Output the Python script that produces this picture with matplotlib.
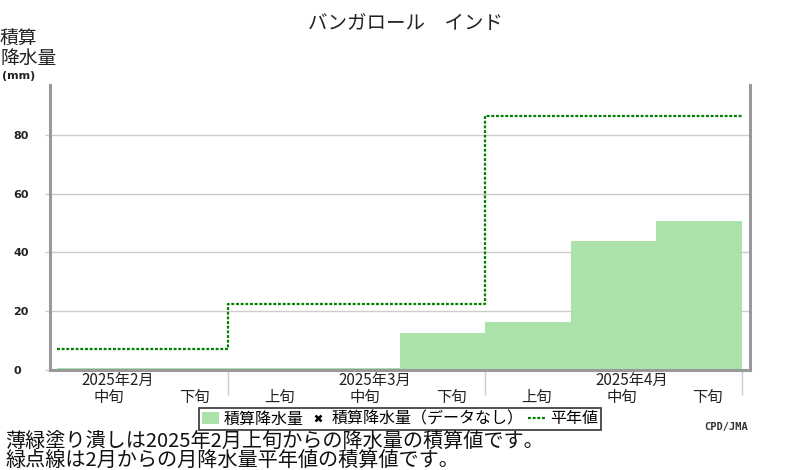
import matplotlib
matplotlib.use("Agg")
import numpy as np
import matplotlib.pyplot as plt
from matplotlib.patches import Patch
from matplotlib.lines import Line2D

plt.rcParams['font.family'] = ['Noto Sans CJK JP', 'DejaVu Sans']

# ---- data ----
dekads = ['中旬', '下旬', '上旬', '中旬', '下旬', '上旬', '中旬', '下旬']
month_labels = ['2025年2月', '2025年3月', '2025年4月']
month_ndek = [2, 3, 3]                      # dekads shown per month
precip = [0.8, 0.8, 0.8, 0.8, 12.6, 16.3, 43.9, 50.7]   # cumulative (mm)
normal = [7.2, 22.6, 86.3]                  # cumulative monthly normal (mm)
yticks = [0, 20, 40, 60, 80]

GREEN_FILL = '#abe3ab'
GREEN_LINE = '#008000'
GRID = '#cccccc'
SPINE = '#999999'

fig = plt.figure(figsize=(8, 4.7), dpi=100)
ax = fig.add_axes([50 / 800, 100 / 470, 700 / 800, 285 / 470])

px = 85.625  # pixels per dekad
ax.set_xlim(-7 / px, len(dekads) + 8 / px)
ax.set_ylim(0, 97)

# bars
x = np.arange(len(dekads))
ax.bar(x, precip, width=1.0, align='edge', color=GREEN_FILL, linewidth=0, zorder=2)

# normal step line
edges = np.concatenate([[0], np.cumsum(month_ndek)])
ax.step(edges, normal + [normal[-1]], where='post', color=GREEN_LINE,
        lw=1.6, linestyle=(0, (1.3, 0.8)), zorder=3)

# axes styling
for side in ['left', 'bottom', 'right']:
    ax.spines[side].set_color(SPINE)
    ax.spines[side].set_linewidth(2.2)
ax.spines['top'].set_visible(False)
ax.set_axisbelow(True)
ax.yaxis.grid(True, color=GRID, lw=1)

ax.set_yticks(yticks)
ax.set_yticklabels([str(v) for v in yticks], ha='left', fontsize=8,
                   fontweight='bold', family='DejaVu Sans', color='#222222')
ax.tick_params(axis='y', length=3.6, width=1, color=GRID, pad=23)

ax.set_xticks([])
ax.set_xticks(edges[1:], minor=True)
ax.tick_params(axis='x', which='minor', length=18, width=1, color=GRID,
               labelbottom=False)

# x labels
xt = ax.get_xaxis_transform()
for i, d in enumerate(dekads):
    ax.text(i + 0.6, -0.096, d, transform=xt, ha='center', va='center',
            fontsize=11, color='#222222')
mid_pos = [i for i, d in enumerate(dekads) if d == '中旬']
for p, m in zip(mid_pos, month_labels):
    ax.text(p + 0.71, -0.038, m, transform=xt, ha='center', va='center',
            fontsize=11, color='#222222')

# title and y label
fig.text(405 / 800, 1 - 23 / 470, 'バンガロール　インド', ha='center', va='center',
         fontsize=14, color='#222222')
fig.text(0, 1 - 28 / 470, '積算\n降水量', ha='left', va='top', fontsize=13.5,
         linespacing=0.95, color='#222222')
fig.text(2 / 800, 1 - 76 / 470, '(mm)', ha='left', va='center', fontsize=8,
         fontweight='bold', family='DejaVu Sans', color='#222222')

# legend
handles = [
    Patch(facecolor=GREEN_FILL, edgecolor='none'),
    Line2D([], [], linestyle='none', marker='x', color='black', markersize=5,
           markeredgewidth=1.8),
    Line2D([], [], color=GREEN_LINE, lw=1.6, linestyle=(0, (1.3, 0.8))),
]
labels = ['積算降水量', '積算降水量（データなし）', '平年値']
leg = fig.legend(handles, labels, loc='center', bbox_to_anchor=(400 / 800, 1 - 419 / 470),
                 ncol=3, frameon=True, fancybox=False, edgecolor='black',
                 fontsize=11.5, handlelength=1.1, handletextpad=0.3,
                 columnspacing=0.3, borderpad=0.15, borderaxespad=0)
leg.get_frame().set_linewidth(1.2)

# footnotes
fig.text(5 / 800, 1 - 441 / 470, '薄緑塗り潰しは2025年2月上旬からの降水量の積算値です。',
         ha='left', va='center', fontsize=14.5, color='#111111')
fig.text(5 / 800, 1 - 460 / 470, '緑点線は2月からの月降水量平年値の積算値です。',
         ha='left', va='center', fontsize=14.5, color='#111111')
fig.text(748 / 800, 1 - 427 / 470, 'CPD/JMA', ha='right', va='center',
         family='DejaVu Sans Mono', fontweight='bold', fontsize=7.5, color='#333333')

fig.savefig('out.png', dpi=100)
